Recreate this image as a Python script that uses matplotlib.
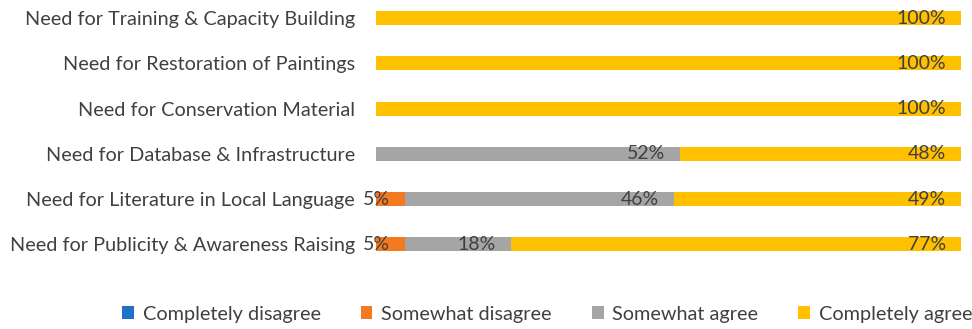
import matplotlib
matplotlib.use("Agg")
import matplotlib.pyplot as plt
from matplotlib.patches import Patch

categories = [
    "Need for Training & Capacity Building",
    "Need for Restoration of Paintings",
    "Need for Conservation Material",
    "Need for Database & Infrastructure",
    "Need for Literature in Local Language",
    "Need for Publicity & Awareness Raising",
]
series_names = ["Completely disagree", "Somewhat disagree", "Somewhat agree", "Completely agree"]
completely_disagree = [0, 0, 0, 0, 0, 0]
somewhat_disagree = [0, 0, 0, 0, 5, 5]
somewhat_agree = [0, 0, 0, 52, 46, 18]
completely_agree = [100, 100, 100, 48, 49, 77]
colors = ["#1F70C8", "#F47A20", "#A5A5A5", "#FFC000"]

plt.rcParams['font.family'] = ['Lato', 'DejaVu Sans']
text_color = "#404040"

fig = plt.figure(figsize=(9.72, 3.29), dpi=100)
# rows centred at y px 18 .. 244 (spacing ~45.2)
ax = fig.add_axes([376/972, 1 - 262.5/329, (961-376)/972, 263.5/329])

series = [completely_disagree, somewhat_disagree, somewhat_agree, completely_agree]
y = list(range(len(categories)))
left = [0]*len(categories)
for vals, col in zip(series, colors):
    ax.barh(y, vals, left=left, height=0.31, color=col)
    for i, v in enumerate(vals):
        if v > 0:
            ax.annotate(f"{v}%", xy=(left[i] + v, i), xytext=(-15, 0),
                        textcoords="offset pixels", ha="right", va="center",
                        fontsize=14, color=text_color)
    left = [l + v for l, v in zip(left, vals)]

ax.set_xlim(0, 100)
ax.set_ylim(5.4, -0.42)
ax.set_yticks(y)
ax.set_yticklabels(categories, fontsize=14.3, color=text_color)
ax.tick_params(axis='y', length=0, pad=15)
ax.set_xticks([])
for s in ax.spines.values():
    s.set_visible(False)

handles = [Patch(facecolor=c, edgecolor='none') for c in colors]
fig.legend(handles, series_names, loc="center", bbox_to_anchor=(0.563, 0.045),
           ncol=4, frameon=False, fontsize=14.3, handlelength=0.6, handleheight=0.6,
           handletextpad=0.45, columnspacing=2.0, labelcolor=text_color)

fig.savefig("out.png", dpi=100)
